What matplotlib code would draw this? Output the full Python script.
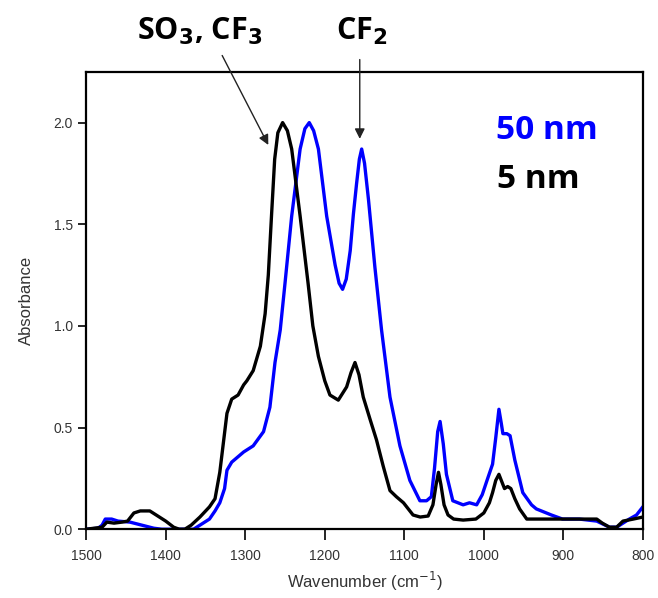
import numpy as np
import matplotlib.pyplot as plt

# 5 nm film (black)
wn_5 = [1500, 1490, 1480, 1474, 1465, 1455, 1448, 1440, 1432, 1420, 1410, 1400, 1390,
        1383, 1376, 1368, 1357, 1345, 1338, 1332, 1323, 1317, 1309, 1302, 1298, 1290,
        1281, 1275, 1271, 1267, 1263, 1259, 1253, 1247, 1241.6, 1231, 1221, 1215, 1208,
        1200, 1193.5, 1183, 1172.5, 1167, 1162, 1157, 1151.6, 1143, 1135, 1126.5, 1118,
        1110, 1101, 1089, 1080, 1070, 1064, 1060, 1057, 1054, 1050, 1045, 1038, 1026,
        1010, 1000, 993, 989, 985, 981, 977, 974, 970, 966, 961, 955, 946, 930, 900,
        875, 858, 851, 842, 833, 825, 812, 800]
ab_5 = [0.0, 0.005, 0.01, 0.035, 0.03, 0.035, 0.04, 0.08, 0.09, 0.09, 0.065, 0.04, 0.01,
        0.0, 0.0, 0.02, 0.06, 0.11, 0.15, 0.28, 0.57, 0.64, 0.66, 0.71, 0.73, 0.78,
        0.90, 1.06, 1.25, 1.54, 1.82, 1.95, 2.0, 1.96, 1.87, 1.54, 1.21, 1.0, 0.85,
        0.73, 0.66, 0.635, 0.70, 0.77, 0.82, 0.76, 0.65, 0.54, 0.44, 0.31, 0.19,
        0.16, 0.13, 0.07, 0.06, 0.065, 0.12, 0.22, 0.28, 0.22, 0.12, 0.07, 0.05, 0.045,
        0.05, 0.08, 0.13, 0.18, 0.24, 0.27, 0.23, 0.20, 0.21, 0.20, 0.15, 0.10, 0.05, 0.05, 0.05,
        0.05, 0.05, 0.03, 0.01, 0.01, 0.04, 0.05, 0.06]

# 50 nm film (blue)
wn_50 = [1500, 1485, 1480, 1476, 1468, 1460, 1445, 1430, 1415, 1405, 1365, 1353, 1345,
         1338, 1332, 1326, 1323, 1317, 1302, 1290, 1277, 1269, 1262.6, 1256, 1250,
         1241.6, 1231, 1225, 1219.5, 1214, 1208, 1197.6, 1187, 1182, 1177.6, 1173, 1168,
         1164, 1160, 1156.5, 1153.6, 1150, 1145, 1137, 1128.6, 1118, 1105.5, 1093,
         1080.4, 1072, 1066, 1062, 1058, 1055, 1051, 1047, 1039, 1026, 1018, 1009, 1002,
         996, 989, 985, 981, 978, 976, 971, 967, 961, 951, 940, 934, 915, 901, 880, 858,
         842, 833, 825, 817, 808, 802, 800]
ab_50 = [0.0, 0.005, 0.02, 0.05, 0.05, 0.04, 0.035, 0.02, 0.005, 0.0, 0.0, 0.03, 0.05,
         0.09, 0.13, 0.20, 0.29, 0.33, 0.38, 0.41, 0.48, 0.60, 0.82, 0.98, 1.21,
         1.54, 1.87, 1.97, 2.0, 1.96, 1.87, 1.54, 1.30, 1.21, 1.18, 1.23, 1.37,
         1.55, 1.70, 1.82, 1.87, 1.80, 1.62, 1.29, 0.98, 0.65, 0.41, 0.24,
         0.14, 0.14, 0.16, 0.30, 0.48, 0.53, 0.42, 0.27, 0.14, 0.12, 0.13, 0.12, 0.17,
         0.24, 0.32, 0.45, 0.59, 0.52, 0.47, 0.47, 0.46, 0.34, 0.18, 0.12, 0.10, 0.07, 0.05, 0.05, 0.04,
         0.01, 0.01, 0.03, 0.05, 0.07, 0.10, 0.11]

xticks = [1500, 1400, 1300, 1200, 1100, 1000, 900, 800]
yticks = [0.0, 0.5, 1.0, 1.5, 2.0]

plt.rcParams['font.family'] = ['Liberation Sans', 'DejaVu Sans']

fig = plt.figure(figsize=(6.58, 5.98), dpi=100)
ax = fig.add_axes([0.131, 0.115, 0.846, 0.765])

ax.plot(wn_50, ab_50, color='#0000ff', lw=2.4, zorder=2, solid_joinstyle='round')
ax.plot(wn_5, ab_5, color='black', lw=2.4, zorder=3, solid_joinstyle='round')

ax.set_xlim(1500, 800)
ax.set_ylim(0, 2.25)
ax.set_xticks(xticks)
ax.set_yticks(yticks)
ax.set_yticklabels([f'{v:.1f}' for v in yticks])
ax.tick_params(direction='out', length=6, width=1.2, labelsize=10, colors='black',
               labelcolor='#333333')
ax.tick_params(axis='x', length=8, pad=6)
for s in ax.spines.values():
    s.set_linewidth(1.6)

ax.set_xlabel('Wavenumber (cm$^{-1}$)', fontsize=12, color='#333333', labelpad=5)
ax.set_ylabel('Absorbance', fontsize=12, color='#333333', labelpad=14)

head = dict(fontsize=22, fontweight='bold', family=['Open Sans', 'DejaVu Sans'])
legend_font = dict(fontsize=24, fontweight='bold', family=['Open Sans', 'DejaVu Sans'])
arrow = dict(arrowstyle='-|>', color='#222222', lw=1, mutation_scale=15, shrinkA=0, shrinkB=0)

ax.text(1357, 2.37, 'SO$_\\mathbf{3}$, CF$_\\mathbf{3}$', ha='center', va='bottom',
        clip_on=False, **head)
ax.annotate('', xy=(1271, 1.89), xytext=(1329, 2.33), annotation_clip=False,
            arrowprops=arrow)
ax.text(1153, 2.37, 'CF$_\\mathbf{2}$', ha='center', va='bottom', clip_on=False, **head)
ax.annotate('', xy=(1156, 1.92), xytext=(1156, 2.31), annotation_clip=False,
            arrowprops=arrow)

ax.text(985, 1.96, '50 nm', color='#0000ff', va='center', ha='left', **legend_font)
ax.text(984, 1.72, '5 nm', color='black', va='center', ha='left', **legend_font)

fig.savefig('out.png', dpi=100)
